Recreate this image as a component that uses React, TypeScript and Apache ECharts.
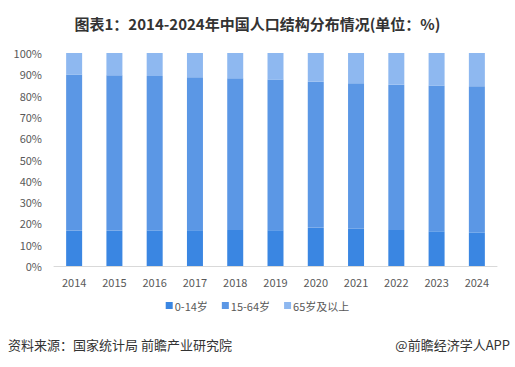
import React, { useEffect, useRef } from "react";
import * as echarts from "echarts";

const years = ["2014", "2015", "2016", "2017", "2018", "2019", "2020", "2021", "2022", "2023", "2024"];
const age0to14 = [16.5, 16.5, 16.7, 16.8, 16.9, 16.8, 17.9, 17.5, 16.9, 16.3, 15.8];
const age15to64 = [73.4, 73.0, 72.5, 71.8, 71.2, 70.6, 68.6, 68.3, 68.2, 68.3, 68.6];
const age65plus = [10.1, 10.5, 10.8, 11.4, 11.9, 12.6, 13.5, 14.2, 14.9, 15.4, 15.6];
const seriesNames = ["0-14岁", "15-64岁", "65岁及以上"];
const colors = ["#3A86E2", "#5B97E5", "#8EB8F0"];

const FONT = '"Microsoft YaHei", "Noto Sans CJK SC", sans-serif';

export default function App() {
  const ref = useRef<HTMLDivElement>(null);
  useEffect(() => {
    document.body.style.margin = "0";
    document.body.style.overflow = "hidden";
    if (!ref.current) return;
    const chart = echarts.init(ref.current, undefined, { renderer: "svg" });
    const data = [age0to14, age15to64, age65plus];
    chart.setOption({
      animation: false,
      backgroundColor: "#ffffff",
      textStyle: { fontFamily: FONT },
      title: {
        text: "图表1：2014-2024年中国人口结构分布情况(单位：%)",
        left: "center",
        top: 11,
        textStyle: { fontSize: 15, fontWeight: "bold", color: "#333333", fontFamily: FONT },
      },
      legend: {
        bottom: 51,
        left: "center",
        itemWidth: 7,
        itemHeight: 7,
        itemGap: 14,
        icon: "rect",
        textStyle: { fontSize: 11, color: "#595959", fontFamily: FONT, padding: [0, 0, 0, -3] },
        data: seriesNames,
      },
      grid: { left: 54, right: 18, top: 53, bottom: 101, containLabel: false },
      xAxis: {
        type: "category",
        data: years,
        axisLine: { lineStyle: { color: "#D9D9D9" } },
        axisTick: { show: false },
        axisLabel: { color: "#595959", fontSize: 11, margin: 10, fontFamily: FONT },
      },
      yAxis: {
        type: "value",
        min: 0,
        max: 100,
        interval: 10,
        splitLine: { show: false },
        axisLine: { show: false },
        axisTick: { show: false },
        axisLabel: { color: "#595959", fontSize: 11, formatter: "{value}%", margin: 12, fontFamily: FONT },
      },
      series: seriesNames.map((name, i) => ({
        name,
        type: "bar",
        stack: "total",
        barWidth: 16,
        data: data[i],
        itemStyle: { color: colors[i] },
      })),
      graphic: [
        {
          type: "text",
          left: 8,
          top: 338,
          style: { text: "资料来源：国家统计局 前瞻产业研究院", fontSize: 13, fill: "#333333", fontFamily: FONT },
        },
        {
          type: "text",
          right: 5,
          top: 338,
          style: { text: "@前瞻经济学人APP", fontSize: 13, fill: "#333333", fontFamily: FONT },
        },
      ],
    });
    return () => chart.dispose();
  }, []);
  return <div ref={ref} style={{ width: 515, height: 367 }} />;
}
